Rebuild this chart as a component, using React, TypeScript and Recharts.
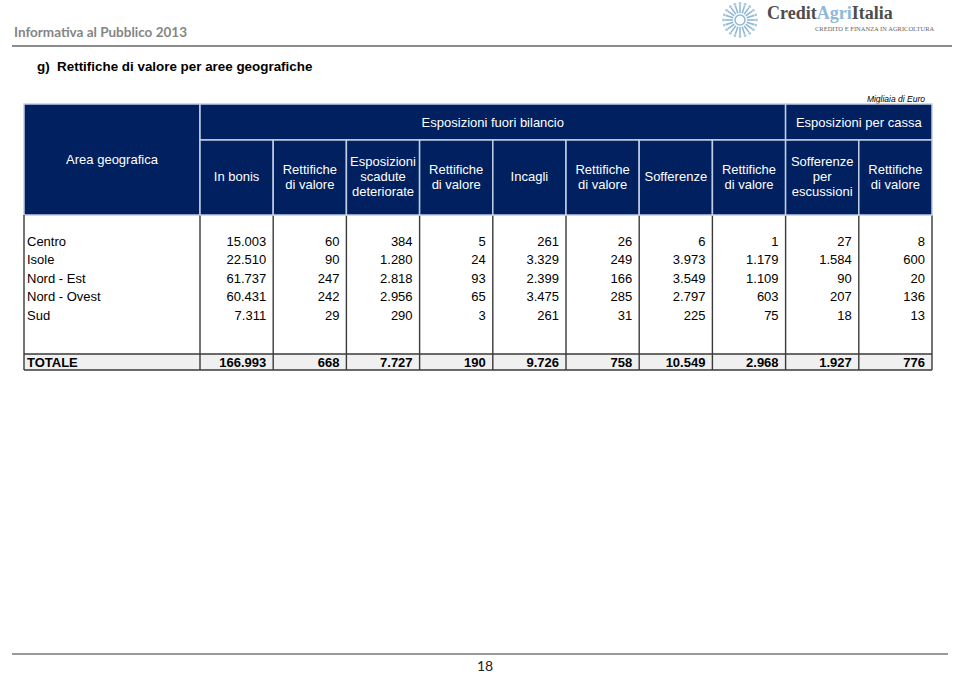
import React from "react";
import { ScatterChart, Scatter, XAxis, YAxis, Customized } from "recharts";

// righe e colonne della tabella
const areas = ["Centro", "Isole", "Nord - Est", "Nord - Ovest", "Sud"];
const totalLabel = "TOTALE";
const columnKeys = [
  "inBonis",
  "rettBonis",
  "scadute",
  "rettScadute",
  "incagli",
  "rettIncagli",
  "sofferenze",
  "rettSofferenze",
  "escussioni",
  "rettEscussioni"
];
const columnHeaders = [
  ["In bonis"],
  ["Rettifiche", "di valore"],
  ["Esposizioni", "scadute", "deteriorate"],
  ["Rettifiche", "di valore"],
  ["Incagli"],
  ["Rettifiche", "di valore"],
  ["Sofferenze"],
  ["Rettifiche", "di valore"],
  ["Sofferenze", "per", "escussioni"],
  ["Rettifiche", "di valore"]
];
const groupHeaders = ["Esposizioni fuori bilancio", "Esposizioni per cassa"];
const groupSpans = [8, 2];

// valori (migliaia di euro)
const inBonis = [15003, 22510, 61737, 60431, 7311];
const rettBonis = [60, 90, 247, 242, 29];
const scadute = [384, 1280, 2818, 2956, 290];
const rettScadute = [5, 24, 93, 65, 3];
const incagli = [261, 3329, 2399, 3475, 261];
const rettIncagli = [26, 249, 166, 285, 31];
const sofferenze = [6, 3973, 3549, 2797, 225];
const rettSofferenze = [1, 1179, 1109, 603, 75];
const escussioni = [27, 1584, 90, 207, 18];
const rettEscussioni = [8, 600, 20, 136, 13];
const totals = [166993, 668, 7727, 190, 9726, 758, 10549, 2968, 1927, 776];

const columnValues = [
  inBonis,
  rettBonis,
  scadute,
  rettScadute,
  incagli,
  rettIncagli,
  sofferenze,
  rettSofferenze,
  escussioni,
  rettEscussioni
];

const bodyData = columnKeys.flatMap((col, c) =>
  areas.map((area, r) => ({ col, area, value: columnValues[c][r] }))
);
const totalData = columnKeys.map((col, c) => ({ col, area: totalLabel, value: totals[c] }));

// layout
const W = 960;
const H = 674;
const TABLE_LEFT = 24;
const TABLE_RIGHT = 932;
const AREA_W = 176;
const HEAD_TOP = 104;
const GROUP_BOTTOM = 140;
const HEAD_BOTTOM = 215;
const TOT_TOP = 354;
const TABLE_BOTTOM = 370;
const BW = (TABLE_RIGHT - TABLE_LEFT - AREA_W) / columnKeys.length;

const NAVY = "#002060";
const HEAD_LINE = "#c3cde3";
const BODY_LINE = "#3a3a3a";
const FONT = "'Liberation Sans', Arial, sans-serif";

const fmt = (v: number) => String(v).replace(/\B(?=(\d{3})+(?!\d))/g, ".");

function HeaderTick(props: any) {
  const { x, payload } = props;
  const i = columnKeys.indexOf(payload.value);
  const lines = columnHeaders[i] || [];
  const mid = 176.5;
  const lh = 15;
  return (
    <g>
      <rect
        x={x - BW / 2}
        y={GROUP_BOTTOM}
        width={BW}
        height={HEAD_BOTTOM - GROUP_BOTTOM}
        fill={NAVY}
        stroke={HEAD_LINE}
        strokeWidth={1.5}
      />
      {lines.map((l, k) => (
        <text
          key={k}
          x={x}
          y={mid + (k - (lines.length - 1) / 2) * lh}
          textAnchor="middle"
          dominantBaseline="central"
          fill="#ffffff"
          fontSize={13}
          fontFamily={FONT}
        >
          {l}
        </text>
      ))}
    </g>
  );
}

function AreaTick(props: any) {
  const { y, payload, bold } = props;
  return (
    <text
      x={TABLE_LEFT + 3}
      y={y}
      dominantBaseline="central"
      fontSize={13}
      fontWeight={bold ? 700 : 400}
      fill="#000000"
      fontFamily={FONT}
    >
      {payload.value}
    </text>
  );
}

function ValueCell(props: any) {
  const { cx, cy, payload, bold } = props;
  return (
    <text
      x={cx + BW / 2 - 7}
      y={cy}
      textAnchor="end"
      dominantBaseline="central"
      fontSize={13}
      fontWeight={bold ? 700 : 400}
      fill="#000000"
      fontFamily={FONT}
    >
      {fmt(payload.value)}
    </text>
  );
}

function TableFrame() {
  const firstCol = TABLE_LEFT + AREA_W;
  let gx = firstCol;
  const groups = groupHeaders.map((g, i) => {
    const w = groupSpans[i] * BW;
    const el = (
      <g key={g}>
        <rect x={gx} y={HEAD_TOP} width={w} height={GROUP_BOTTOM - HEAD_TOP} fill={NAVY} stroke={HEAD_LINE} strokeWidth={1.5} />
        <text
          x={gx + w / 2}
          y={(HEAD_TOP + GROUP_BOTTOM) / 2}
          textAnchor="middle"
          dominantBaseline="central"
          fill="#ffffff"
          fontSize={13}
          fontFamily={FONT}
        >
          {g}
        </text>
      </g>
    );
    gx += w;
    return el;
  });
  const verticals = [TABLE_LEFT, ...columnKeys.map((_, i) => firstCol + i * BW), TABLE_RIGHT];
  return (
    <g>
      <rect x={TABLE_LEFT} y={HEAD_TOP} width={AREA_W} height={HEAD_BOTTOM - HEAD_TOP} fill={NAVY} stroke={HEAD_LINE} strokeWidth={1.5} />
      <text x={TABLE_LEFT + AREA_W / 2} y={159} textAnchor="middle" dominantBaseline="central" fill="#ffffff" fontSize={13} fontFamily={FONT}>
        Area geografica
      </text>
      {groups}
      <rect x={TABLE_LEFT} y={TOT_TOP} width={TABLE_RIGHT - TABLE_LEFT} height={TABLE_BOTTOM - TOT_TOP} fill="#f0f0f0" />
      {verticals.map((vx, i) => (
        <line key={i} x1={vx} x2={vx} y1={HEAD_BOTTOM} y2={TABLE_BOTTOM} stroke={BODY_LINE} strokeWidth={1.4} />
      ))}
      <line x1={TABLE_LEFT} x2={TABLE_RIGHT} y1={TOT_TOP} y2={TOT_TOP} stroke={BODY_LINE} strokeWidth={1.4} />
      <line x1={TABLE_LEFT} x2={TABLE_RIGHT} y1={TABLE_BOTTOM} y2={TABLE_BOTTOM} stroke={BODY_LINE} strokeWidth={1.4} />
    </g>
  );
}

function Logo() {
  const petals = Array.from({ length: 20 }, (_, k) => (k * 360) / 20);
  return (
    <svg width={40} height={40} style={{ position: "absolute", left: 720, top: 0 }}>
      <circle cx={20} cy={20} r={5} fill="none" stroke="#8fb8d6" strokeWidth={1.5} />
      {petals.map((a) => {
        const r = (a * Math.PI) / 180;
        return (
          <g key={a}>
            <line
              x1={20 + Math.cos(r) * 7}
              y1={20 + Math.sin(r) * 7}
              x2={20 + Math.cos(r) * 15}
              y2={20 + Math.sin(r) * 15}
              stroke="#8fb8d6"
              strokeWidth={1.6}
            />
            <circle cx={20 + Math.cos(r) * 16.5} cy={20 + Math.sin(r) * 16.5} r={1.4} fill="#a9c8e0" />
          </g>
        );
      })}
    </svg>
  );
}

export default function App() {
  return (
    <div style={{ position: "absolute", left: 0, top: 0, width: W, height: H, background: "#ffffff", fontFamily: FONT }}>
      <div style={{ position: "absolute", left: 14, top: 24, fontFamily: "Lato, 'Open Sans', sans-serif", fontWeight: 700, fontSize: 13.5, color: "#858585" }}>
        Informativa al Pubblico 2013
      </div>
      <Logo />
      <div style={{ position: "absolute", left: 767, top: 3, fontFamily: "'Liberation Serif', serif", fontWeight: 700, fontSize: 18, color: "#4d4d4d", whiteSpace: "nowrap" }}>
        Credit<span style={{ color: "#8fb8d8" }}>Agri</span>Italia
      </div>
      <div style={{ position: "absolute", left: 815, top: 25, fontFamily: "'Liberation Serif', serif", fontSize: 6.5, color: "#666666", whiteSpace: "nowrap" }}>
        CREDITO E FINANZA IN AGRICOLTURA
      </div>
      <div style={{ position: "absolute", left: 12, top: 45, width: 940, height: 2, background: "#8c8c8c" }} />
      <div style={{ position: "absolute", left: 37, top: 59, fontWeight: 700, fontSize: 13.4, color: "#000000", whiteSpace: "pre" }}>
        {"g)  Rettifiche di valore per aree geografiche"}
      </div>
      <div style={{ position: "absolute", right: W - 925, top: 94, fontStyle: "italic", fontSize: 8.5, color: "#000000" }}>
        Migliaia di Euro
      </div>

      <ScatterChart
        width={W}
        height={H}
        margin={{ top: HEAD_TOP, right: W - TABLE_RIGHT - 1, bottom: H - TABLE_BOTTOM, left: TABLE_LEFT }}
        style={{ position: "absolute", left: 0, top: 0 }}
      >
        <Customized component={TableFrame} />
        <XAxis
          dataKey="col"
          type="category"
          orientation="top"
          height={HEAD_BOTTOM - HEAD_TOP}
          allowDuplicatedCategory={false}
          axisLine={false}
          tickLine={false}
          interval={0}
          tick={(p: any) => <HeaderTick {...p} />}
        />
        <YAxis
          yAxisId="body"
          dataKey="area"
          type="category"
          width={AREA_W}
          reversed
          allowDuplicatedCategory={false}
          axisLine={false}
          tickLine={false}
          interval={0}
          padding={{ top: 16.75, bottom: 45.75 }}
          tick={(p: any) => <AreaTick {...p} />}
        />
        <YAxis
          yAxisId="tot"
          dataKey="area"
          type="category"
          orientation="right"
          width={1}
          allowDuplicatedCategory={false}
          axisLine={false}
          tickLine={false}
          interval={0}
          padding={{ top: TOT_TOP - HEAD_BOTTOM, bottom: 0 }}
          tick={(p: any) => <AreaTick {...p} bold />}
        />
        <Scatter yAxisId="body" data={bodyData} isAnimationActive={false} shape={(p: any) => <ValueCell {...p} />} />
        <Scatter yAxisId="tot" data={totalData} isAnimationActive={false} shape={(p: any) => <ValueCell {...p} bold />} />
      </ScatterChart>

      <div style={{ position: "absolute", left: 12, top: 653, width: 936, height: 2, background: "#9a9a9a" }} />
      <div style={{ position: "absolute", left: 0, width: 970, top: 657, textAlign: "center", fontFamily: "Lato, sans-serif", fontSize: 14, color: "#222222" }}>
        18
      </div>
    </div>
  );
}
